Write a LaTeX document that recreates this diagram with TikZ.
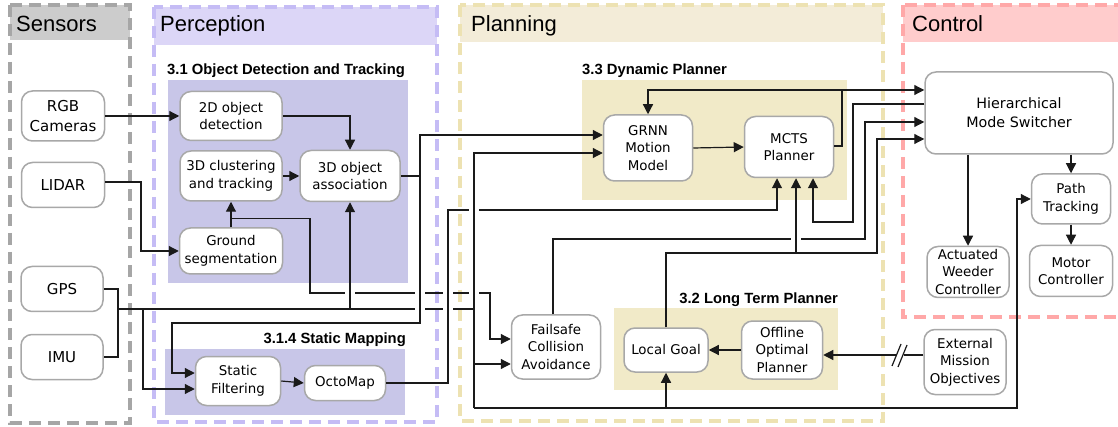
\documentclass[tikz,border=0pt]{standalone}
\usepackage{fontspec}
\setmainfont{DejaVu Sans}
\newfontfamily\headfont{Liberation Sans}
\usetikzlibrary{arrows.meta}

\definecolor{sensfill}{HTML}{CCCCCC}
\definecolor{sensline}{HTML}{A6A6A6}
\definecolor{percfill}{HTML}{DCD6F7}
\definecolor{percline}{HTML}{C5BCF5}
\definecolor{percbox}{HTML}{C8C6E8}
\definecolor{planfill}{HTML}{F3ECD8}
\definecolor{planline}{HTML}{EDE2B2}
\definecolor{planbox}{HTML}{F1EAC8}
\definecolor{ctrlfill}{HTML}{FFCCCC}
\definecolor{ctrlline}{HTML}{FFA8A8}
\definecolor{blockline}{HTML}{A8A8A8}
\definecolor{wirecol}{HTML}{1A1A1A}

\tikzset{
  block/.style={draw=blockline, line width=1.5pt, rounded corners=11pt, fill=white,
    align=center, inner sep=2pt, font=\fontsize{13.4}{17.5}\selectfont},
  sensor/.style={block, font=\fontsize{15}{20}\selectfont},
  link/.style={draw=wirecol, line width=1.2pt},
  wire/.style={link, -{Triangle[length=10pt,width=10pt]}},
  group/.style={dash pattern=on 12pt off 7pt, line width=3.6pt},
  grouptitle/.style={anchor=base west, inner sep=0pt, font=\headfont\fontsize{22}{24}\selectfont},
  sectitle/.style={inner sep=0pt, font=\headfont\bfseries\fontsize{14.8}{17}\selectfont},
}

\begin{document}
\begin{tikzpicture}[x=1pt,y=-1pt]
  \useasboundingbox (0,0) rectangle (1118,427);
  \fill[white] (0,0) rectangle (1118,427);

  % groups
  \fill[sensfill] (10,5) rectangle (130,40);
  \fill[percfill] (154,7) rectangle (437,45);
  \fill[planfill] (460,5) rectangle (883,42);
  \fill[ctrlfill] (903,5) rectangle (1130,42);
  \fill[percbox] (168,80) rectangle (408,283);
  \fill[percbox] (165,349) rectangle (405,415);
  \fill[planbox] (582,80) rectangle (847,200);
  \fill[planbox] (614,308) rectangle (838,390);
  \draw[group, sensline] (10,5) rectangle (130,423);
  \draw[group, percline] (154,7) rectangle (437,422);
  \draw[group, planline] (460,5) rectangle (883,421);
  \draw[group, ctrlline] (903,5) rectangle (1130,317);

  \node[grouptitle] (senstitle) at (16,32) {Sensors};
  \node[grouptitle] (perctitle) at (160,32) {Perception};
  \node[grouptitle] (plantitle) at (471,32) {Planning};
  \node[grouptitle] (ctrltitle) at (912,32) {Control};
  \node[sectitle, anchor=base west] (odttitle) at (167,75) {3.1 Object Detection and Tracking};
  \node[sectitle, anchor=base east] (smtitle) at (406,343) {3.1.4 Static Mapping};
  \node[sectitle, anchor=base west] (dptitle) at (582,75) {3.3 Dynamic Planner};
  \node[sectitle, anchor=base east] (ltptitle) at (838,304) {3.2 Long Term Planner};

  % sensors
  \node[sensor, minimum width=83pt, minimum height=50pt] (rgb) at (63,116) {RGB\\Cameras};
  \node[sensor, minimum width=83pt, minimum height=45pt] (lidar) at (63,185) {LIDAR};
  \node[sensor, minimum width=82pt, minimum height=45pt] (gps) at (62,289) {GPS};
  \node[sensor, minimum width=82pt, minimum height=45pt] (imu) at (62,357) {IMU};

  % perception
  \node[block, minimum width=102pt, minimum height=49pt] (det2d) at (231,116) {2D object\\detection};
  \node[block, minimum width=102pt, minimum height=50pt] (clust) at (231,176) {3D clustering\\and tracking};
  \node[block, minimum width=100pt, minimum height=51pt] (assoc) at (350,176) {3D object\\association};
  \node[block, minimum width=103pt, minimum height=46pt] (ground) at (231,251) {Ground\\segmentation};
  \node[block, minimum width=85pt, minimum height=49pt] (sfilt) at (238,381) {Static\\Filtering};
  \node[block, minimum width=81pt, minimum height=35pt] (octo) at (345,383) {OctoMap};

  % planning
  \node[block, minimum width=89pt, minimum height=66pt] (grnn) at (648,148) {GRNN\\Motion\\Model};
  \node[block, minimum width=89pt, minimum height=61pt] (mcts) at (789,147) {MCTS\\Planner};
  \node[block, minimum width=89pt, minimum height=64pt] (failsafe) at (556,347) {Failsafe\\Collision\\Avoidance};
  \node[block, minimum width=84pt, minimum height=44pt] (lgoal) at (666,350) {Local Goal};
  \node[block, minimum width=81pt, minimum height=58pt] (offline) at (782,350) {Offline\\Optimal\\Planner};

  % control
  \node[block, minimum width=188pt, minimum height=82pt, font=\fontsize{14.3}{19}\selectfont] (hms) at (1019,113) {Hierarchical\\Mode Switcher};
  \node[block, minimum width=79pt, minimum height=50pt] (path) at (1071,199) {Path\\Tracking};
  \node[block, minimum width=82pt, minimum height=51pt] (weeder) at (968,272) {Actuated\\Weeder\\Controller};
  \node[block, minimum width=83pt, minimum height=51pt] (motor) at (1071,271) {Motor\\Controller};
  \node[block, minimum width=82pt, minimum height=65pt] (ext) at (965,362) {External\\Mission\\Objectives};

  \coordinate (locbus) at (118,309);
  \coordinate (locv) at (474,408);
  \coordinate (assocv) at (420,176);
  \coordinate (mctsup) at (842,90);

  % perception wires
  \draw[wire] (rgb.east) -- (det2d.west);
  \draw[wire] (det2d.east) -| (assoc.north);
  \draw[wire] (clust.east) -- (assoc.west);
  \draw[wire] ([yshift=3pt]lidar.east) -| (141,251) -- (ground.west);
  \draw[wire] (ground.north) -- (clust.south);
  \draw[wire] (ground.north) ++(0,-9) -| (310,293) -- (345,293) (355,293) -- (415,293) (425,293) -- (443,293)
    (453,293) -- (469,293) (479,293) -| (490,339) -- ([yshift=8pt]failsafe.west);
  \draw[link] (gps.east) -| (118,357) -- (imu.east);
  \draw[link] (locbus) -- (415,309) (425,309) -- (443,309) (453,309) -- (474,309);
  \draw[wire] (143,309) |- ([yshift=-8pt]sfilt.west);
  \draw[wire] (350,309) -- (assoc.south);
  \draw[wire] (assoc.east) -- (assocv) |- ([yshift=13pt]grnn.west);
  \draw[wire] (assocv) -- (420,323) -| (172,373) -- ([yshift=8pt]sfilt.west);
  \draw[wire] (sfilt.east) -- (octo.west);
  \draw[wire] (octo.east) -| (448,210) -- (469,210) (479,210) -| ([xshift=-12pt]mcts.south);

  % planning wires
  \draw[wire] (locv) |- ([yshift=-5pt]grnn.west);
  \draw[wire] (474,364) -- ([yshift=-17pt]failsafe.west);
  \draw[wire] (locv) -| (1017,199) -- (path.west);
  \draw[wire] (666,408) -- (lgoal.south);
  \draw[wire] ([xshift=-3pt]failsafe.north) |- (791,239) (801,239) -| (865,122) -- ([yshift=-9pt]hms.west);
  \draw[wire] (lgoal.north) |- (877,253) |- ([yshift=-26pt]hms.west);
  \draw[wire] (796,253) -- ([xshift=7pt]mcts.south);
  \draw[wire] ([yshift=9pt]hms.west) -| (853,222) -| ([xshift=24pt]mcts.south);
  \draw[wire] ([yshift=1pt]mcts.east) -| (mctsup) -- ([yshift=23pt]hms.west);
  \draw[wire] (mctsup) -| (grnn.north);
  \draw[wire] (grnn.east) -- (mcts.west);
  \draw[wire] (offline.west) -- (lgoal.east);
  \draw[wire] ([yshift=7pt]ext.west) -- (904,355) (896,355) -- ([yshift=-5pt]offline.east);
  \draw[link] (892,366) -- (901,344) (898,367) -- (907,345);

  % control wires
  \draw[wire] (weeder.north |- hms.south) -- (weeder.north);
  \draw[wire] (path.north |- hms.south) -- (path.north);
  \draw[wire] (path.south) -- (motor.north);
\end{tikzpicture}
\end{document}
